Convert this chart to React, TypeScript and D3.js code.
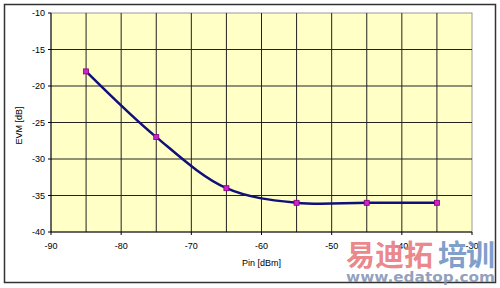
import React from "react";
import * as d3 from "d3";

const pinValues = [-85, -75, -65, -55, -45, -35];
const evmValues = [-18, -27, -34, -36, -36, -36];
const xTicks = [-90, -80, -70, -60, -50, -40, -30];
const yTicks = [-10, -15, -20, -25, -30, -35, -40];
const xGrid = [-85, -80, -75, -70, -65, -60, -55, -50, -45, -40, -35];

export default function App() {
  const W = 500, H = 288;
  const m = { l: 51, r: 472, t: 13, b: 232 };
  const x = d3.scaleLinear().domain([-90, -30]).range([m.l, m.r]);
  const y = d3.scaleLinear().domain([-40, -10]).range([m.b, m.t]);
  const pts = pinValues.map((p, i) => [p, evmValues[i]] as [number, number]);
  const line = d3.line<[number, number]>()
    .x(d => x(d[0])).y(d => y(d[1]))
    .curve(d3.curveCatmullRom.alpha(0.5));
  const font = "'Liberation Sans', Arial, sans-serif";
  return (
    <svg width={W} height={H} style={{ position: "absolute", left: 0, top: 0 }}>
      <rect x={0} y={0} width={W} height={H} fill="#fff" />
      <rect x={4.5} y={4.5} width={491} height={278} fill="#fff" stroke="#333" strokeWidth={1.5} />
      <rect x={m.l} y={m.t} width={m.r - m.l} height={m.b - m.t} fill="#FFFFC6" stroke="#999" strokeWidth={1} />
      {xGrid.map(v => (
        <line key={"gx" + v} x1={x(v)} x2={x(v)} y1={m.t} y2={m.b} stroke="#222" strokeWidth={1} />
      ))}
      {yTicks.filter(v => v !== -40 && v !== -10).map(v => (
        <line key={"gy" + v} x1={m.l} x2={m.r} y1={y(v)} y2={y(v)} stroke="#222" strokeWidth={1} />
      ))}
      <line x1={m.l} x2={m.l} y1={m.t} y2={m.b} stroke="#000" strokeWidth={1} />
      <line x1={m.l} x2={m.r} y1={m.b} y2={m.b} stroke="#000" strokeWidth={1} />
      {yTicks.map(v => (
        <g key={"yt" + v}>
          <line x1={m.l - 3} x2={m.l} y1={y(v)} y2={y(v)} stroke="#000" />
          <text x={m.l - 6} y={y(v)} dy="0.35em" textAnchor="end" fontSize={9} fontFamily={font} fill="#000">{v}</text>
        </g>
      ))}
      {xTicks.map(v => (
        <g key={"xt" + v}>
          <line x1={x(v)} x2={x(v)} y1={m.b} y2={m.b + 3} stroke="#000" />
          <text x={x(v)} y={m.b + 17} textAnchor="middle" fontSize={9} fontFamily={font} fill="#000">{v}</text>
        </g>
      ))}
      <text x={(m.l + m.r) / 2} y={266} textAnchor="middle" fontSize={9} fontFamily={font} fill="#000">Pin [dBm]</text>
      <text transform={`translate(22,${(m.t + m.b) / 2 + 3}) rotate(-90)`} textAnchor="middle" fontSize={9} fontFamily={font} fill="#000">EVM [dB]</text>
      <path d={line(pts) || ""} fill="none" stroke="#10107A" strokeWidth={2.5} />
      {pts.map((p, i) => (
        <rect key={"pt" + i} x={x(p[0]) - 2.5} y={y(p[1]) - 2.5} width={5} height={5} fill="#D020D0" stroke="#800080" strokeWidth={0.8} />
      ))}
      {/* watermark */}
      <text x={346} y={266} fontSize={29} fontWeight="bold" fontFamily="'Noto Sans CJK SC', sans-serif" fill="#E8787C" fillOpacity={0.9} textLength={87}>易迪拓</text>
      <text x={438} y={266} fontSize={29} fontWeight="bold" fontFamily="'Noto Sans CJK SC', sans-serif" fill="#6E92C4" fillOpacity={0.9} textLength={57}>培训</text>
      <text x={346} y={282} fontSize={14} fontWeight="bold" fontFamily="'DejaVu Sans', sans-serif" fill="#8090B0" fillOpacity={0.85} textLength={149} lengthAdjust="spacingAndGlyphs">www.edatop.com</text>
    </svg>
  );
}
